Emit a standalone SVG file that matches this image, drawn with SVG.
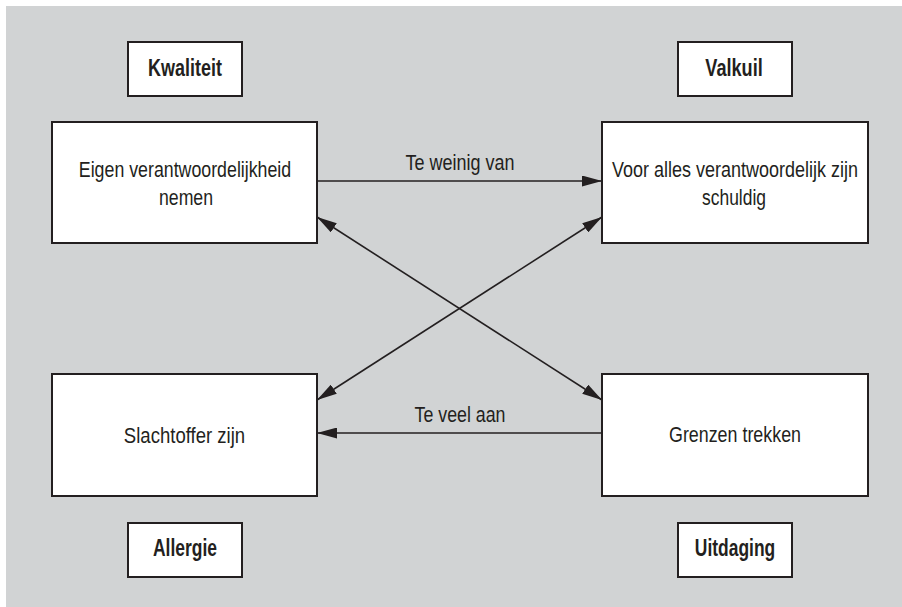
<svg xmlns="http://www.w3.org/2000/svg" width="902" height="607" viewBox="0 0 902 607">
  <style>
    .box { fill: #ffffff; stroke: #231f20; stroke-width: 2; }
    .t { font-family: "Liberation Sans", Arial, sans-serif; font-size: 22px; fill: #231f20; text-anchor: middle; }
    .h { font-family: "Liberation Sans", Arial, sans-serif; font-size: 23px; font-weight: bold; fill: #231f20; text-anchor: middle; }
    .c { stroke: #231f20; stroke-width: 1.6; fill: none; }
  </style>
  <defs>
    <marker id="ah" viewBox="0 0 20 11" refX="20" refY="5.5" markerWidth="20" markerHeight="11" markerUnits="userSpaceOnUse" orient="auto-start-reverse">
      <path d="M0,0 L20,5.5 L0,11 Z" fill="#231f20"/>
    </marker>
  </defs>
  <rect x="0" y="0" width="902" height="607" fill="#ffffff"/>
  <rect x="6" y="6" width="896" height="601" fill="#d1d3d4"/>

  <g id="connectors">
    <line class="c" x1="317" y1="181" x2="602" y2="181" marker-end="url(#ah)"/>
    <line class="c" x1="602" y1="433" x2="317" y2="433" marker-end="url(#ah)"/>
    <line class="c" x1="317" y1="217" x2="602" y2="400" marker-start="url(#ah)" marker-end="url(#ah)"/>
    <line class="c" x1="602" y1="217" x2="317" y2="400" marker-start="url(#ah)" marker-end="url(#ah)"/>
    <text class="t" transform="translate(460 170) scale(0.82 1)" textLength="133" lengthAdjust="spacingAndGlyphs">Te weinig van</text>
    <text class="t" transform="translate(460 422) scale(0.82 1)" textLength="111" lengthAdjust="spacingAndGlyphs">Te veel aan</text>
  </g>

  <g id="kwaliteit">
    <rect class="box" x="128" y="42" width="114" height="54"/>
    <text class="h" transform="translate(185 76) scale(0.82 1)" textLength="90" lengthAdjust="spacingAndGlyphs">Kwaliteit</text>
  </g>
  <g id="valkuil">
    <rect class="box" x="678" y="42" width="114" height="54"/>
    <text class="h" transform="translate(734 76) scale(0.82 1)" textLength="70" lengthAdjust="spacingAndGlyphs">Valkuil</text>
  </g>
  <g id="allergie">
    <rect class="box" x="128" y="523" width="114" height="54"/>
    <text class="h" transform="translate(185 556) scale(0.82 1)" textLength="78" lengthAdjust="spacingAndGlyphs">Allergie</text>
  </g>
  <g id="uitdaging">
    <rect class="box" x="678" y="523" width="114" height="54"/>
    <text class="h" transform="translate(735 556) scale(0.82 1)" textLength="98" lengthAdjust="spacingAndGlyphs">Uitdaging</text>
  </g>

  <g id="eigen">
    <rect class="box" x="52" y="122" width="265" height="121"/>
    <text class="t" transform="translate(185 177) scale(0.82 1)" textLength="259" lengthAdjust="spacingAndGlyphs">Eigen verantwoordelijkheid</text>
    <text class="t" transform="translate(186 205) scale(0.82 1)" textLength="66" lengthAdjust="spacingAndGlyphs">nemen</text>
  </g>
  <g id="voor-alles">
    <rect class="box" x="602" y="122" width="266" height="121"/>
    <text class="t" transform="translate(735 177) scale(0.82 1)" textLength="300" lengthAdjust="spacingAndGlyphs">Voor alles verantwoordelijk zijn</text>
    <text class="t" transform="translate(734 205) scale(0.82 1)" textLength="78" lengthAdjust="spacingAndGlyphs">schuldig</text>
  </g>
  <g id="slachtoffer">
    <rect class="box" x="52" y="374" width="265" height="122"/>
    <text class="t" transform="translate(184.5 443) scale(0.82 1)" textLength="148" lengthAdjust="spacingAndGlyphs">Slachtoffer zijn</text>
  </g>
  <g id="grenzen">
    <rect class="box" x="602" y="374" width="266" height="122"/>
    <text class="t" transform="translate(735 442) scale(0.82 1)" textLength="161" lengthAdjust="spacingAndGlyphs">Grenzen trekken</text>
  </g>
</svg>
